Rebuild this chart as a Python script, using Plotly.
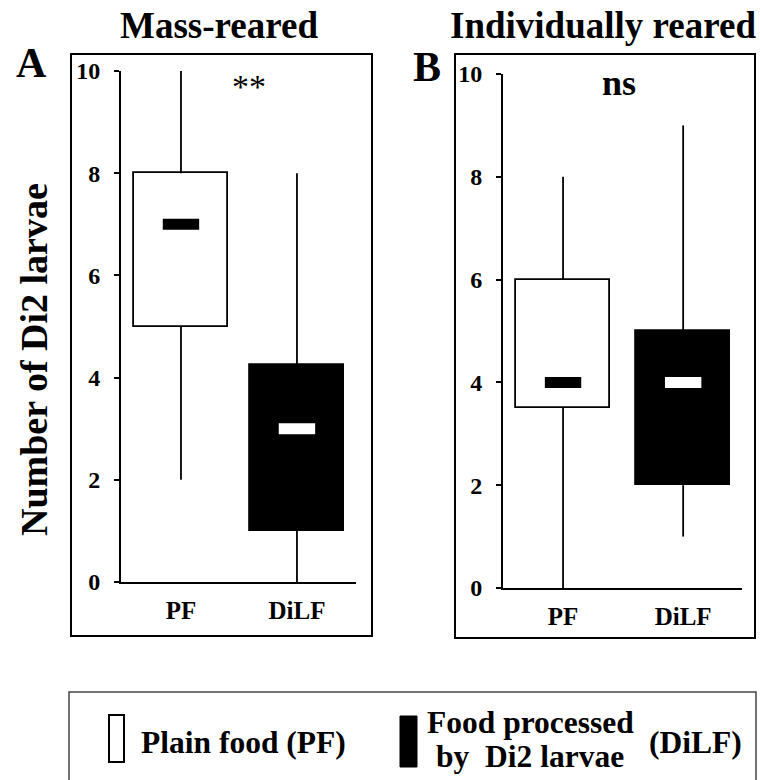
import plotly.graph_objects as go

# ---- data ----
categories = ["PF", "DiLF"]
mass_min = [2, 0]
mass_q1 = [5, 1]
mass_median = [7, 3]
mass_q3 = [8, 4.25]
mass_max = [10, 8]

ind_min = [0, 1]
ind_q1 = [3.5, 2]
ind_median = [4, 4]
ind_q3 = [6, 5]
ind_max = [8, 9]

y_ticks = [0, 2, 4, 6, 8, 10]
panel_titles = ["Mass-reared", "Individually reared"]
panel_letters = ["A", "B"]
significance = ["**", "ns"]
legend_labels = ["Plain food (PF)", "Food processed", "by  Di2 larvae", "(DiLF)"]
y_title = "Number of Di2 larvae"

FONT = "Liberation Serif, Times New Roman, serif"
W, H = 760, 780
fill_colors = ["white", "black"]
median_colors = ["black", "white"]


def px(x):
    return x / W


def py(y):
    return 1 - y / H


fig = go.Figure()

panels = [
    dict(mn=mass_min, q1=mass_q1, med=mass_median, q3=mass_q3, mx=mass_max,
         xa="x", ya="y", width=0.81),
    dict(mn=ind_min, q1=ind_q1, med=ind_median, q3=ind_q3, mx=ind_max,
         xa="x2", ya="y2", width=0.78),
]

for p in panels:
    # whiskers
    for i, c in enumerate(categories):
        fig.add_trace(go.Scatter(
            x=[c, c, None, c, c],
            y=[p["mn"][i], p["q1"][i], None, p["q3"][i], p["mx"][i]],
            mode="lines", line=dict(color="black", width=1.8),
            xaxis=p["xa"], yaxis=p["ya"], showlegend=False, hoverinfo="skip"))
    # boxes
    fig.add_trace(go.Bar(
        x=categories,
        y=[q3 - q1 for q1, q3 in zip(p["q1"], p["q3"])],
        base=p["q1"], width=p["width"],
        marker=dict(color=fill_colors, line=dict(color="black", width=1.8)),
        xaxis=p["xa"], yaxis=p["ya"], showlegend=False, hoverinfo="skip"))
    # medians
    fig.add_trace(go.Scatter(
        x=categories, y=p["med"], mode="markers",
        marker=dict(symbol="line-ew", size=26,
                    line=dict(color=median_colors, width=11)),
        xaxis=p["xa"], yaxis=p["ya"], showlegend=False, hoverinfo="skip"))

xcommon = dict(type="category", showline=True, linecolor="black", linewidth=2,
               ticks="", showgrid=False, zeroline=False, fixedrange=True,
               automargin=False,
               tickfont=dict(family=FONT, size=25, color="black", weight="bold"),
               ticklabelstandoff=5)
ycommon = dict(range=[0, 10], tickvals=y_ticks, showline=True, linecolor="black",
               linewidth=2, ticks="outside", ticklen=5, tickwidth=2,
               tickcolor="black", showgrid=False, zeroline=False, fixedrange=True,
               automargin=False, ticklabelstandoff=9,
               tickfont=dict(family=FONT, size=24, color="black", weight="bold"))

fig.update_layout(
    width=W, height=H, margin=dict(l=0, r=0, t=0, b=0, autoexpand=False),
    paper_bgcolor="white", plot_bgcolor="white", bargap=0, barmode="overlay",
    xaxis=dict(domain=[px(121), px(356)], range=[-0.517, 1.509], anchor="y",
               categoryorder="array", categoryarray=categories, **xcommon),
    yaxis=dict(domain=[py(582), py(71)], anchor="x", **ycommon),
    xaxis2=dict(domain=[px(503), px(742)], range=[-0.5, 1.49], anchor="y2",
                categoryorder="array", categoryarray=categories, **xcommon),
    yaxis2=dict(domain=[py(588), py(74)], anchor="x2", **ycommon),
)

shapes = []
# panel frames
for x0, x1, y0, y1 in [(71, 372, 54, 636), (455, 755, 54, 638)]:
    shapes.append(dict(type="rect", xref="paper", yref="paper",
                       x0=px(x0), x1=px(x1), y0=py(y1), y1=py(y0),
                       line=dict(color="black", width=2)))
# legend frame
shapes.append(dict(type="rect", xref="paper", yref="paper",
                   x0=px(69), x1=px(756), y0=py(800), y1=py(692),
                   line=dict(color="#444", width=1.5)))
# legend swatches
shapes.append(dict(type="rect", xref="paper", yref="paper",
                   x0=px(109), x1=px(124), y0=py(762), y1=py(715),
                   fillcolor="white", line=dict(color="black", width=2)))
shapes.append(dict(type="rect", xref="paper", yref="paper",
                   x0=px(400), x1=px(417), y0=py(767), y1=py(716),
                   fillcolor="black", line=dict(color="black", width=1)))
fig.update_layout(shapes=shapes)

ann = []


def text(s, x, y, size, bold=True, xanchor="center", angle=0):
    ann.append(dict(text=s, x=px(x), y=py(y), xref="paper", yref="paper",
                    xanchor=xanchor, yanchor="middle", showarrow=False,
                    textangle=angle,
                    font=dict(family=FONT, size=size, color="black",
                              weight="bold" if bold else "normal")))


text(panel_titles[0], 219, 26, 37)
text(panel_titles[1], 603, 26, 37)
text(panel_letters[0], 31, 63, 42)
text(panel_letters[1], 427, 67, 42)
text(significance[0], 249, 86, 34, bold=False)
text(significance[1], 619, 83, 36)
text(legend_labels[0], 139, 742, 31.5, xanchor="left")
text(legend_labels[1], 530, 722, 31.5)
text(legend_labels[2], 530, 756, 31.5)
text(legend_labels[3], 695, 742, 31.5)
text(y_title, 34, 360, 38, angle=-90)
fig.update_layout(annotations=ann)

fig.write_html("out.html", config={"displayModeBar": False},
               post_script="document.body.style.margin='0px';")
